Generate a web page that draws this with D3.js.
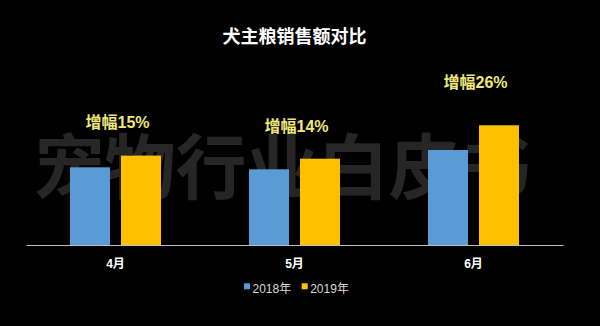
<!DOCTYPE html>
<html>
<head>
<meta charset="utf-8">
<script src="https://cdn.jsdelivr.net/npm/d3@7/dist/d3.min.js"></script>
<style>
  html, body { margin: 0; padding: 0; background: #000; }
  svg { display: block; }
</style>
</head>
<body>
<svg id="chart" width="600" height="326"></svg>
<script>
// Dog food sales, 2018 vs 2019, by month (relative units)
const months = ["4月", "5月", "6月"];
const years = ["2018年", "2019年"];
const sales2018 = [77.7, 75.7, 95.0];
const sales2019 = [89.4, 86.3, 119.7];
const growth = ["增幅15%", "增幅14%", "增幅26%"];

const W = 600, H = 326;
const baseY = 245;
const colors = { "2018年": "#5b9bd5", "2019年": "#ffc000" };
const latin = "'Liberation Sans', Arial, 'Noto Sans CJK SC', sans-serif";
const cjk = "'Noto Sans CJK SC', 'Liberation Sans', sans-serif";

const svg = d3.select("#chart");
svg.append("rect").attr("width", W).attr("height", H).attr("fill", "#000");

const x0 = d3.scaleBand().domain(months).range([26, 563]).padding(0);
const x1 = d3.scaleBand().domain(years).range([0, x0.bandwidth()])
  .paddingInner(0.2157).paddingOuter(0.863);
const y = d3.scaleLinear().domain([0, 200]).range([baseY, 45]);

// background watermark
svg.append("text")
  .attr("x", 282).attr("y", 193)
  .attr("text-anchor", "middle")
  .attr("font-family", cjk)
  .attr("font-weight", "bold")
  .attr("font-size", 71)
  .attr("fill", "#262626")
  .text("宠物行业白皮书");

// title
svg.append("text")
  .attr("x", 294.5).attr("y", 43)
  .attr("text-anchor", "middle")
  .attr("font-family", cjk)
  .attr("font-weight", "bold")
  .attr("font-size", 18)
  .attr("fill", "#ffffff")
  .text("犬主粮销售额对比");

const rows = months.map((m, i) => ({
  month: m,
  values: [
    { year: years[0], v: sales2018[i] },
    { year: years[1], v: sales2019[i] }
  ],
  growth: growth[i]
}));

const groups = svg.append("g").selectAll("g")
  .data(rows).join("g")
  .attr("transform", d => `translate(${x0(d.month)},0)`);

groups.selectAll("rect")
  .data(d => d.values).join("rect")
  .attr("x", d => x1(d.year))
  .attr("width", x1.bandwidth())
  .attr("y", d => y(d.v))
  .attr("height", d => baseY - y(d.v))
  .attr("fill", d => colors[d.year]);

// growth labels above each month
groups.append("text")
  .attr("x", x0.bandwidth() / 2 + 2)
  .attr("y", d => y(d.values[1].v * 1.31))
  .attr("text-anchor", "middle")
  .attr("font-family", latin)
  .attr("font-weight", "bold")
  .attr("font-size", 16)
  .attr("fill", "#f0e87a")
  .text(d => d.growth);

// x axis
const xAxis = svg.append("g")
  .attr("transform", `translate(0,${baseY})`)
  .call(d3.axisBottom(x0).tickSize(0).tickPadding(14));
xAxis.select(".domain").attr("stroke", "#bfbfbf").attr("stroke-width", 1);
xAxis.selectAll("text")
  .attr("font-family", latin)
  .attr("font-weight", "bold")
  .attr("font-size", 12)
  .attr("fill", "#ffffff");

// legend
const legend = svg.append("g").selectAll("g")
  .data(years).join("g")
  .attr("transform", (d, i) => `translate(${244 + i * 57.7},0)`);
legend.append("rect")
  .attr("x", 0).attr("y", 283.3)
  .attr("width", 6).attr("height", 6)
  .attr("fill", d => colors[d]);
legend.append("text")
  .attr("x", 8.5).attr("y", 293)
  .attr("font-family", latin)
  .attr("font-size", 12)
  .attr("fill", "#d9d9d9")
  .text(d => d);
</script>
</body>
</html>
